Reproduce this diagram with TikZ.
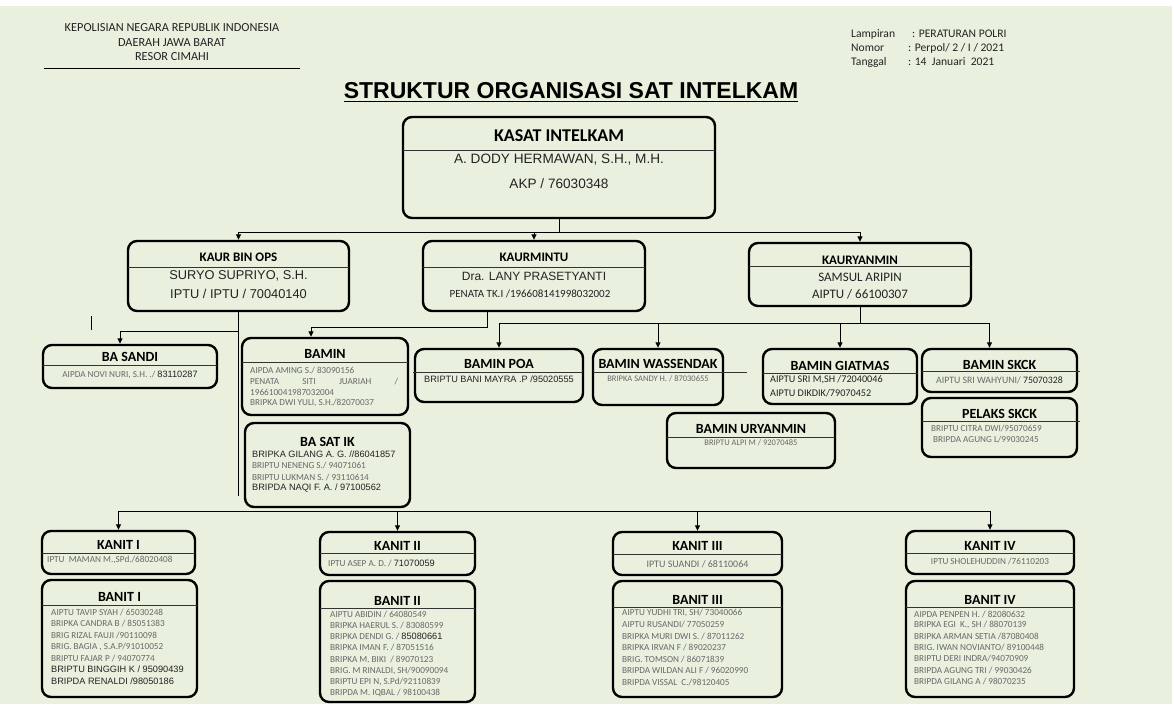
\documentclass[tikz,border=0pt]{standalone}
\usepackage{fontspec}
\setmainfont{Carlito}
\newfontfamily\arialf{Liberation Sans}
\usetikzlibrary{arrows.meta,calc,positioning}
\definecolor{bg}{RGB}{233,240,221}
\definecolor{gry}{RGB}{105,105,105}
\definecolor{dk}{RGB}{35,35,35}

\begin{document}
\begin{tikzpicture}[x=1pt,y=-1pt,
  box/.style={draw,line width=2.4pt,rounded corners=9pt,inner sep=0pt},
  dv/.style={line width=0.8pt,black!80},
  ln/.style={line width=0.9pt},
  arr/.style={line width=0.9pt,-{Triangle[length=5.5pt,width=5pt]}},
  hd/.style={font=\fontsize{12.3}{14}\selectfont,text=dk,inner sep=0pt},
  hr/.style={font=\fontsize{11.6}{14}\selectfont,text=dk,inner sep=0pt,anchor=base west},
  ttl/.style={font=\fontsize{14}{16}\bfseries\selectfont,inner sep=0pt},
  big/.style={font=\arialf\fontsize{12.8}{14}\selectfont,text=dk,inner sep=0pt},
  nm/.style={font=\fontsize{9.2}{11}\selectfont,text=gry,inner sep=0pt},
  ar/.style={font=\arialf\fontsize{9.2}{11}\selectfont,text=dk,inner sep=0pt}]
\fill[white] (0,0) rectangle (1174,704);
\fill[bg] (0,6) rectangle (1172,704);
\useasboundingbox (0,0) rectangle (1174,704);

\node[hd] at (172,28)(h1){KEPOLISIAN NEGARA REPUBLIK INDONESIA};
\node[hd] at (172,43)(h2){DAERAH JAWA BARAT};
\node[hd] at (172,57)(h3){RESOR CIMAHI};
\draw[ln] (44,68)--(300,68);
\node[hr] at (851,37)(l1){Lampiran};
\node[hr] at (851,51)(l2){Nomor};
\node[hr] at (851,65)(l3){Tanggal};
\node[hr] at (912,37)(v1){: PERATURAN POLRI};
\node[hr] at (908,51)(v2){: Perpol/ 2 / I / 2021};
\node[hr] at (908,65)(v3){: 14~~Januari~~2021};

\node[font=\arialf\bfseries\fontsize{23}{26}\selectfont,inner xsep=0pt,inner ysep=2.5pt] at (571,91)(title){STRUKTUR ORGANISASI SAT INTELKAM};
\draw[line width=1.3pt] (title.south west)--(title.south east);

% kotak
\foreach \n/\cx/\cy/\w/\h in {kasat/559/167.5/312/101, kbo/238.5/276/221/70, kmin/534/276/222/70,
  kyan/860/274.5/222/63, basandi/130/366.5/174/43, bamin/325/376.5/166/77, basatik/327.5/465/165/84,
  poa/499/375.5/168/53, wass/658/377/130/56, giat/840/376.5/154/55, skck/999.5/370.5/155/43,
  pelaks/999.5/427.5/155/59, uryan/751/440.5/168/55,
  kanit1/118.5/552.5/153/43, banit1/119.5/638.5/155/117, kanit2/397.5/553.5/155/43, banit2/397.5/641.5/155/121,
  kanit3/697.5/553.5/169/43, banit3/697.5/639/169/116, kanit4/990/552.5/168/43, banit4/990/639/168/116}
  \node[box,minimum width=\w pt,minimum height=\h pt] at (\cx,\cy)(\n){};
\foreach \a/\b/\c in {403/715/150, 128/349/267, 423/645/267, 749/971/266, 43/217/365, 242/408/362,
  413/583/372, 593/747/372, 763/918/373, 922/1080/371, 922/1080/421, 667/835/437,
  42/195/553, 42/197/605, 320/475/553, 320/475/608, 613/782/554, 613/782/607, 906/1074/553, 906/1074/607}
  \draw[dv] (\a,\c)--(\b,\c);

% garis
\coordinate (lv1) at (0,232);
\coordinate (lv3) at (0,511);
\coordinate (m1) at (487,327);
\coordinate (y1) at (0,323);
\draw[ln] (kasat.south)--(kasat.south |- lv1);
\foreach \k in {kbo,kmin,kyan}
  \draw[arr] (kasat.south |- lv1) -| (\k.north);
\draw[ln] (kbo.south)--(kbo.south |- 0,496)coordinate(kboend);
\draw[arr] (kbo.south |- 0,331) -| ([xshift=-10pt]basandi.north);
\draw[arr] (kmin.south -| m1)--(m1) -| ([xshift=-14pt]bamin.north);
\draw[ln] (kyan.south)--(kyan.south |- y1);
\draw[ln] (poa.north |- y1)--([xshift=-10pt]skck.north |- y1);
\foreach \k in {poa,wass,giat}
  \draw[arr] (\k.north |- y1)--(\k.north);
\draw[arr] ([xshift=-10pt]skck.north |- y1)--([xshift=-10pt]skck.north);
\draw[ln] (91,316)--(91,330);
\draw[ln] (kanit1.north |- lv3)--(kanit4.north |- lv3);
\foreach \k in {kanit1,kanit2,kanit3,kanit4}
  \draw[arr] (\k.north |- lv3)--(\k.north);

% teks baris 1-2
\node[font=\fontsize{18}{20}\bfseries\selectfont,inner sep=0pt] at (559,136)(kasat-t){KASAT INTELKAM};
\node[big,font=\arialf\fontsize{13.6}{15}\selectfont] at (559,160)(kasat-a){A. DODY HERMAWAN, S.H., M.H.};
\node[big,font=\arialf\fontsize{13.6}{15}\selectfont] at (559,184)(kasat-b){AKP / 76030348};
\node[ttl,font=\fontsize{13}{15}\bfseries\selectfont] at (238.5,257)(kbo-t){KAUR BIN OPS};
\node[big] at (238.5,276)(kbo-a){SURYO SUPRIYO, S.H.};
\node[big] at (238.5,294)(kbo-b){IPTU / IPTU / 70040140};
\node[ttl,font=\fontsize{13}{15}\bfseries\selectfont] at (534,257)(kmin-t){KAURMINTU};
\node[big,font=\arialf\fontsize{12}{14}\selectfont] at (534,276)(kmin-a){Dra. LANY PRASETYANTI};
\node[nm,font=\fontsize{11}{13}\selectfont,text=dk] at (530,294)(kmin-b){PENATA TK.I /196608141998032002};
\node[ttl,font=\fontsize{13}{15}\bfseries\selectfont] at (860,260)(kyan-t){KAURYANMIN};
\node[nm,font=\fontsize{13}{15}\selectfont,text=dk] at (860,277)(kyan-a){SAMSUL ARIPIN};
\node[nm,font=\fontsize{13}{15}\selectfont,text=dk] at (860,294)(kyan-b){AIPTU / 66100307};

% teks baris 3
\node[ttl] at (130,357)(basandi-t){BA SANDI};
\node[nm] at (130,375)(basandi-a){AIPDA NOVI NURI, S.H. ./ {\arialf\color{dk}83110287}};
\node[ttl] at (325,354)(bamin-t){BAMIN};
\node[nm,anchor=west] at (250,370)(bamin-a){AIPDA AMING S./ 83090156};
\node[nm,anchor=west] at (250,381)(bamin-b){\makebox[148pt][s]{PENATA\hfill SITI\hfill JUARIAH\hfill /}};
\node[nm,anchor=west] at (250,392)(bamin-c){196610041987032004};
\node[nm,anchor=west] at (250,403)(bamin-d){BRIPKA DWI YULI, S.H./82070037};
\node[ttl] at (327.5,442)(basatik-t){BA SAT IK};
\node[ar,anchor=west] at (252,454)(basatik-a){BRIPKA GILANG A. G. //86041857};
\node[nm,anchor=west] at (252,465.5)(basatik-b){BRIPTU NENENG S./ 94071061};
\node[nm,anchor=west] at (252,477)(basatik-c){BRIPTU LUKMAN S. / 93110614};
\node[ar,anchor=west] at (252,488)(basatik-d){BRIPDA NAQI F. A. / 97100562};
\node[ttl] at (499,364)(poa-t){BAMIN POA};
\node[ar] at (499,379)(poa-a){BRIPTU BANI MAYRA .P /95020555};
\node[ttl] at (658,364)(wass-t){BAMIN WASSENDAK};
\node[nm,font=\fontsize{8.5}{10}\selectfont] at (658,379)(wass-a){BRIPKA SANDY H. / 87030655};
\node[ttl] at (840,366)(giat-t){BAMIN GIATMAS};
\node[nm,font=\fontsize{10.2}{12}\selectfont,text=dk,anchor=west] at (770,380)(giat-a){AIPTU SRI M,SH /72040046};
\node[nm,font=\fontsize{10.2}{12}\selectfont,text=dk,anchor=west] at (770,393)(giat-b){AIPTU DIKDIK/79070452};
\node[ttl] at (999.5,365)(skck-t){BAMIN SKCK};
\node[nm,font=\fontsize{9.8}{11}\selectfont] at (999.5,380)(skck-a){AIPTU SRI WAHYUNI/ \textcolor{dk}{75070328}};
\node[ttl] at (999.5,414)(pelaks-t){PELAKS SKCK};
\node[nm,anchor=west] at (931,428)(pelaks-a){BRIPTU CITRA DWI/95070659};
\node[nm,anchor=west] at (933,439)(pelaks-b){BRIPDA AGUNG L/99030245};
\node[ttl] at (751,429)(uryan-t){BAMIN URYANMIN};
\node[nm,font=\fontsize{8.5}{10}\selectfont] at (751,443)(uryan-a){BRIPTU ALPI M / 92070485};

% teks baris 4
\node[ttl] at (118.5,545)(kanit1-t){KANIT I};
\node[nm,anchor=west] at (47,560)(kanit1-a){IPTU~~MAMAN M.,SPd./68020408};
\node[ttl] at (119.5,597)(banit1-t){BANIT I};
\foreach \t [count=\i from 0] in {AIPTU TAVIP SYAH / 65030248, BRIPKA CANDRA B / 85051383,
  BRIG RIZAL FAUJI /90110098, {BRIG. BAGIA , S.A.P/91010052}, BRIPTU FAJAR P / 94070774}
  \node[nm,anchor=west] at (51,612+11.5*\i)(banit1-\i){\t};
\node[ar,anchor=west] at (51,669.5)(banit1-5){BRIPTU BINGGIH K / 95090439};
\node[ar,anchor=west] at (51,681)(banit1-6){BRIPDA RENALDI /98050186};

\node[ttl] at (397.5,546)(kanit2-t){KANIT II};
\node[nm,anchor=west] at (328,563)(kanit2-a){IPTU ASEP A. D. / {\arialf\color{dk}71070059}};
\node[ttl] at (397.5,601)(banit2-t){BANIT II};
\foreach \t [count=\i from 0] in {AIPTU ABIDIN / 64080549, BRIPKA HAERUL S. / 83080599,
  BRIPKA DENDI G. / {\arialf\color{dk}85080661}, BRIPKA IMAN F. / 87051516, BRIPKA M. BIKI~ / 89070123,
  {BRIG. M RINALDI, SH/90090094}, {BRIPTU EPI N, S.Pd/92110839}, BRIPDA M. IQBAL / 98100438}
  \node[nm,anchor=west] at (330,614+11.3*\i)(banit2-\i){\t};

\node[ttl] at (697.5,546)(kanit3-t){KANIT III};
\node[nm,font=\fontsize{10}{12}\selectfont] at (697.5,564)(kanit3-a){IPTU SUANDI / 68110064};
\node[ttl] at (697.5,600)(banit3-t){BANIT III};
\foreach \t [count=\i from 0] in {{AIPTU YUDHI TRI, SH/ 73040066}, AIPTU RUSANDI/ 77050259,
  BRIPKA MURI DWI S. / 87011262, BRIPKA IRVAN F / 89020237, BRIG. TOMSON / 86071839,
  BRIPDA WILDAN ALI F / 96020990, BRIPDA VISSAL~ C./98120405}
  \node[nm,anchor=west] at (622,613+11.5*\i)(banit3-\i){\t};

\node[ttl] at (990,546)(kanit4-t){KANIT IV};
\node[nm] at (990,561)(kanit4-a){IPTU SHOLEHUDDIN /76110203};
\node[ttl] at (990,600)(banit4-t){BANIT IV};
\foreach \t [count=\i from 0] in {AIPDA PENPEN H. / 82080632, {BRIPKA EGI~ K., SH / 88070139},
  BRIPKA ARMAN SETIA /87080408, BRIG. IWAN NOVIANTO/ 89100448, BRIPTU DERI INDRA/94070909,
  BRIPDA AGUNG TRI / 99030426, BRIPDA GILANG A / 98070235}
  \node[nm,anchor=west] at (914,614+11.2*\i)(banit4-\i){\t};
\end{tikzpicture}
\end{document}
